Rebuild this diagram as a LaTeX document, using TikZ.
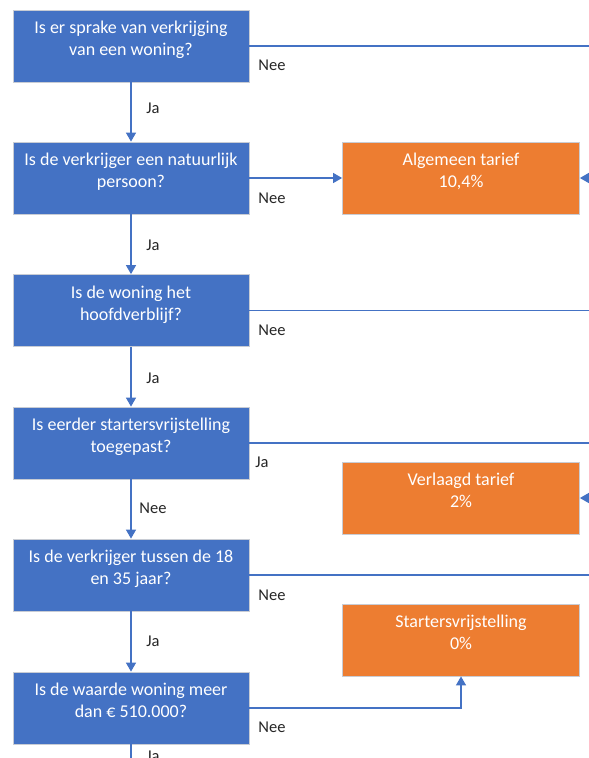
\documentclass[tikz,border=0pt]{standalone}
\usepackage{fontspec}
\setmainfont{Carlito}
\usetikzlibrary{arrows.meta}
\definecolor{qblue}{HTML}{4472C4}
\definecolor{rorange}{HTML}{ED7D31}
\definecolor{edgegray}{HTML}{C8CCD4}
\tikzset{
  qbox/.style={rectangle, fill=qblue, draw=edgegray, line width=0.8pt, minimum width=236pt, minimum height=72pt, inner sep=0pt},
  rbox/.style={rectangle, fill=rorange, draw=edgegray, line width=0.8pt, minimum width=237pt, minimum height=72pt, inner sep=0pt},
  boxtext/.style={anchor=north, align=center, text=white, font=\fontsize{18}{22}\selectfont, inner sep=0pt},
  lbl/.style={font=\fontsize{16.5}{18}\selectfont, text=black!85, inner sep=0pt},
  conn/.style={draw=qblue, line width=1.3pt},
  arr/.style={conn, -{Triangle[length=9pt,width=10pt]}}
}
\begin{document}
\begin{tikzpicture}[x=1pt, y=-1pt]
\useasboundingbox (0,0) rectangle (589,758);
\clip (0,0) rectangle (589,758);
\fill[white] (0,0) rectangle (589,758);
% question boxes
\node[qbox] (q1) at (131,46) {};
\node[qbox] (q2) at (131,178) {};
\node[qbox] (q3) at (131,310.5) {};
\node[qbox] (q4) at (131,443) {};
\node[qbox] (q5) at (131,575) {};
\node[qbox] (q6) at (131,708) {};
\node[boxtext] (t1) at ([yshift=-11.5pt]q1.north) {Is er sprake van verkrijging\\van een woning?};
\node[boxtext] (t2) at ([yshift=-11.5pt]q2.north) {Is de verkrijger een natuurlijk\\persoon?};
\node[boxtext] (t3) at ([yshift=-11.5pt]q3.north) {Is de woning het\\hoofdverblijf?};
\node[boxtext] (t4) at ([yshift=-11.5pt]q4.north) {Is eerder startersvrijstelling\\toegepast?};
\node[boxtext] (t5) at ([yshift=-11.5pt]q5.north) {Is de verkrijger tussen de 18\\en 35 jaar?};
\node[boxtext] (t6) at ([yshift=-11.5pt]q6.north) {Is de waarde woning meer\\dan € 510.000?};
% result boxes
\node[rbox] (r1) at (461,178) {};
\node[rbox] (r2) at (461,498) {};
\node[rbox] (r3) at (461,640) {};
\node[boxtext] (s1) at ([yshift=-11.5pt]r1.north) {Algemeen tarief\\10,4\%};
\node[boxtext] (s2) at ([yshift=-11.5pt]r2.north) {Verlaagd tarief\\2\%};
\node[boxtext] (s3) at ([yshift=-11.5pt]r3.north) {Startersvrijstelling\\0\%};
% off-picture coordinates
\coordinate (e1) at (600,46);
\coordinate (e3) at (600,310.5);
\coordinate (e4) at (600,443);
\coordinate (e5) at (600,575);
\coordinate (in1) at (600,178);
\coordinate (in2) at (600,498);
\coordinate (bot) at (131,775);
% vertical connectors
\draw[arr] (q1) -- (q2);
\draw[arr] (q2) -- (q3);
\draw[arr] (q3) -- (q4);
\draw[arr] (q4) -- (q5);
\draw[arr] (q5) -- (q6);
\draw[conn] (q6.south) -- (bot);
% horizontal connectors
\draw[conn] (q1.east) -- (e1);
\draw[arr] (q2.east) -- (r1.west);
\draw[conn] (q3.east) -- (e3);
\draw[conn] (q4.east) -- (e4);
\draw[conn] (q5.east) -- (e5);
\draw[arr] (q6.east) -| (r3.south);
\draw[arr] (in1) -- (r1.east);
\draw[arr] (in2) -- (r2.east);
% labels
\node[lbl] (n1) at (272,65) {Nee};
\node[lbl] (n2) at (272,198) {Nee};
\node[lbl] (n3) at (272,330) {Nee};
\node[lbl] (n4) at (262,462) {Ja};
\node[lbl] (n5) at (272,595) {Nee};
\node[lbl] (n6) at (272,727) {Nee};
\node[lbl] (j1) at (153,108) {Ja};
\node[lbl] (j2) at (153,245) {Ja};
\node[lbl] (j3) at (153,378) {Ja};
\node[lbl] (j4) at (153,508) {Nee};
\node[lbl] (j5) at (153,641) {Ja};
\node[lbl] (j6) at (153,756) {Ja};
\end{tikzpicture}
\end{document}
